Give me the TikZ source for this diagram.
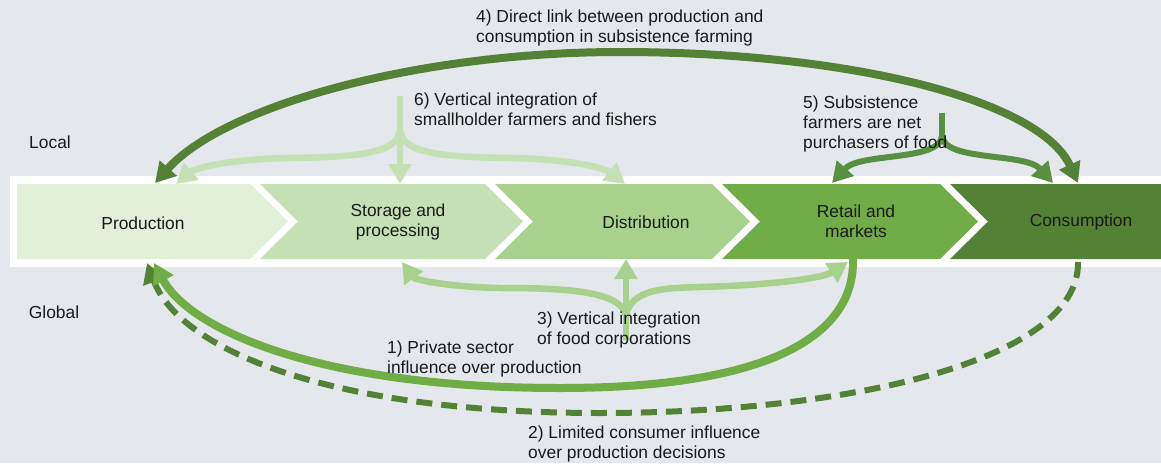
\documentclass[tikz,border=0pt]{standalone}
\usepackage{fontspec}
\setmainfont{Liberation Sans}
\usetikzlibrary{arrows.meta}
\definecolor{bgGrey}{RGB}{228,231,236}
\definecolor{greenA}{RGB}{226,239,217}
\definecolor{greenB}{RGB}{197,224,180}
\definecolor{greenC}{RGB}{169,209,142}
\definecolor{greenD}{RGB}{112,173,71}
\definecolor{greenE}{RGB}{83,129,53}
\definecolor{greenF}{RGB}{88,143,64}
\definecolor{textBlack}{RGB}{26,26,26}

\begin{document}
\begin{tikzpicture}[x=1pt,y=-1pt,
    >={Triangle[length=20pt,width=22pt]},
    txt/.style={inner sep=0pt, text=textBlack, font=\fontsize{17.4}{20}\selectfont},
    label/.style={txt, align=left, anchor=west},
    stage/.style={txt, align=center},
    thickflow/.style={line width=8pt},
    thinflow/.style={line width=6.5pt},
  ]
        % background and band
        \useasboundingbox (0,0) rectangle (1161,463);
        \fill[bgGrey] (0,0) rectangle (1161,463);
        \fill[white] (10,176) rectangle (1161,267);

        % chevrons
        \fill[greenA] (17,184) -- (250,184) -- (288,221.5) -- (250,259) -- (17,259) -- cycle;
        \fill[greenB] (260,184) -- (485,184) -- (523,221.5) -- (485,259) -- (260,259) -- (298,221.5) -- cycle;
        \fill[greenC] (495,184) -- (712,184) -- (750,221.5) -- (712,259) -- (495,259) -- (533,221.5) -- cycle;
        \fill[greenD] (722,184) -- (940,184) -- (978,221.5) -- (940,259) -- (722,259) -- (760,221.5) -- cycle;
        \fill[greenE] (950,184) -- (1161,184) -- (1161,259) -- (950,259) -- (988,221.5) -- cycle;

        % stage names
        \node[stage] (prod) at (143,223) {Production};
        \node[stage] (stor) at (398,222) {Storage and\\processing};
        \node[stage] (dist) at (646,222) {Distribution};
        \node[stage] (retail) at (856,221) {Retail and\\markets};
        \node[stage] (cons) at (1081,222) {Consumption};

        \node[txt] (local) at (50,142) {Local};
        \node[txt] (global) at (54,312) {Global};

        % anchor points on the band
        \coordinate (prodTop) at (155,183);
        \coordinate (prodTopB) at (176,184);
        \coordinate (storTop) at (400,184);
        \coordinate (distTop) at (625,184);
        \coordinate (retailTop) at (832,183);
        \coordinate (consTopA) at (1053,183);
        \coordinate (consTop) at (1078,183);
        \coordinate (prodBotA) at (147,263);
        \coordinate (prodBotB) at (154,263);
        \coordinate (storBot) at (402,262);
        \coordinate (distBot) at (626,259);
        \coordinate (retailBotA) at (848,262);
        \coordinate (retailBot) at (853,259);
        \coordinate (consBot) at (1078,262);

        % 4) direct link
        \draw[greenE, thickflow, <->] (prodTop) .. controls (225,105) and (420,52) .. (620,52)
            .. controls (850,52) and (1040,100) .. (consTop);
        \node[label] (lbl4) at (476,28) {4) Direct link between production and\\consumption in subsistence farming};

        % 6) smallholder integration
        \coordinate (six) at (400,96);
        \coordinate (sixFork) at (400,130);
        \draw[greenB, thinflow, ->] (six) -- (storTop);
        \draw[greenB, thinflow, ->] (sixFork) .. controls (398,155) and (350,157) .. (290,158)
            .. controls (230,159) and (195,168) .. (prodTopB);
        \draw[greenB, thinflow, ->] (sixFork) .. controls (402,155) and (450,157) .. (510,158)
            .. controls (570,159) and (605,168) .. (distTop);
        \node[label] (lbl6) at (414,109) {6) Vertical integration of\\smallholder farmers and fishers};

        % 5) net purchasers
        \coordinate (five) at (942,113);
        \coordinate (fiveFork) at (942,135);
        \draw[greenF, line width=6pt] (five) -- (fiveFork);
        \draw[greenF, line width=6pt, ->] (fiveFork) .. controls (942,162) and (860,152) .. (retailTop);
        \draw[greenF, line width=6pt, ->] (fiveFork) .. controls (942,162) and (1025,152) .. (consTopA);
        \node[label] (lbl5) at (803,124) {5) Subsistence\\farmers are net\\purchasers of food};

        % 3) food corporations
        \coordinate (three) at (626,340);
        \coordinate (threeFork) at (626,315);
        \draw[greenC, thinflow, ->] (three) -- (distBot);
        \draw[greenC, thinflow, ->] (threeFork) .. controls (620,290) and (560,288) .. (500,288)
            .. controls (450,287) and (415,280) .. (storBot);
        \draw[greenC, thinflow, ->] (threeFork) .. controls (632,290) and (660,288) .. (700,287)
            .. controls (780,285) and (825,277) .. (retailBotA);
        \node[label] (lbl3) at (537,330) {3) Vertical integration\\of food corporations};

        % 2) consumer influence
        \draw[greenE, line width=6pt, dash pattern=on 16pt off 9pt, ->] (consBot)
            .. controls (1080,360) and (850,413) .. (600,413)
            .. controls (330,413) and (180,350) .. (prodBotA);
        \node[label] (lbl2) at (528,444) {2) Limited consumer influence\\over production decisions};

        % 1) private sector influence
        \draw[greenD, thickflow, ->] (retailBot) .. controls (855,340) and (760,388) .. (560,388)
            .. controls (320,388) and (190,330) .. (prodBotB);
        \node[label] (lbl1) at (387,359) {1) Private sector\\influence over production};
\end{tikzpicture}
\end{document}
